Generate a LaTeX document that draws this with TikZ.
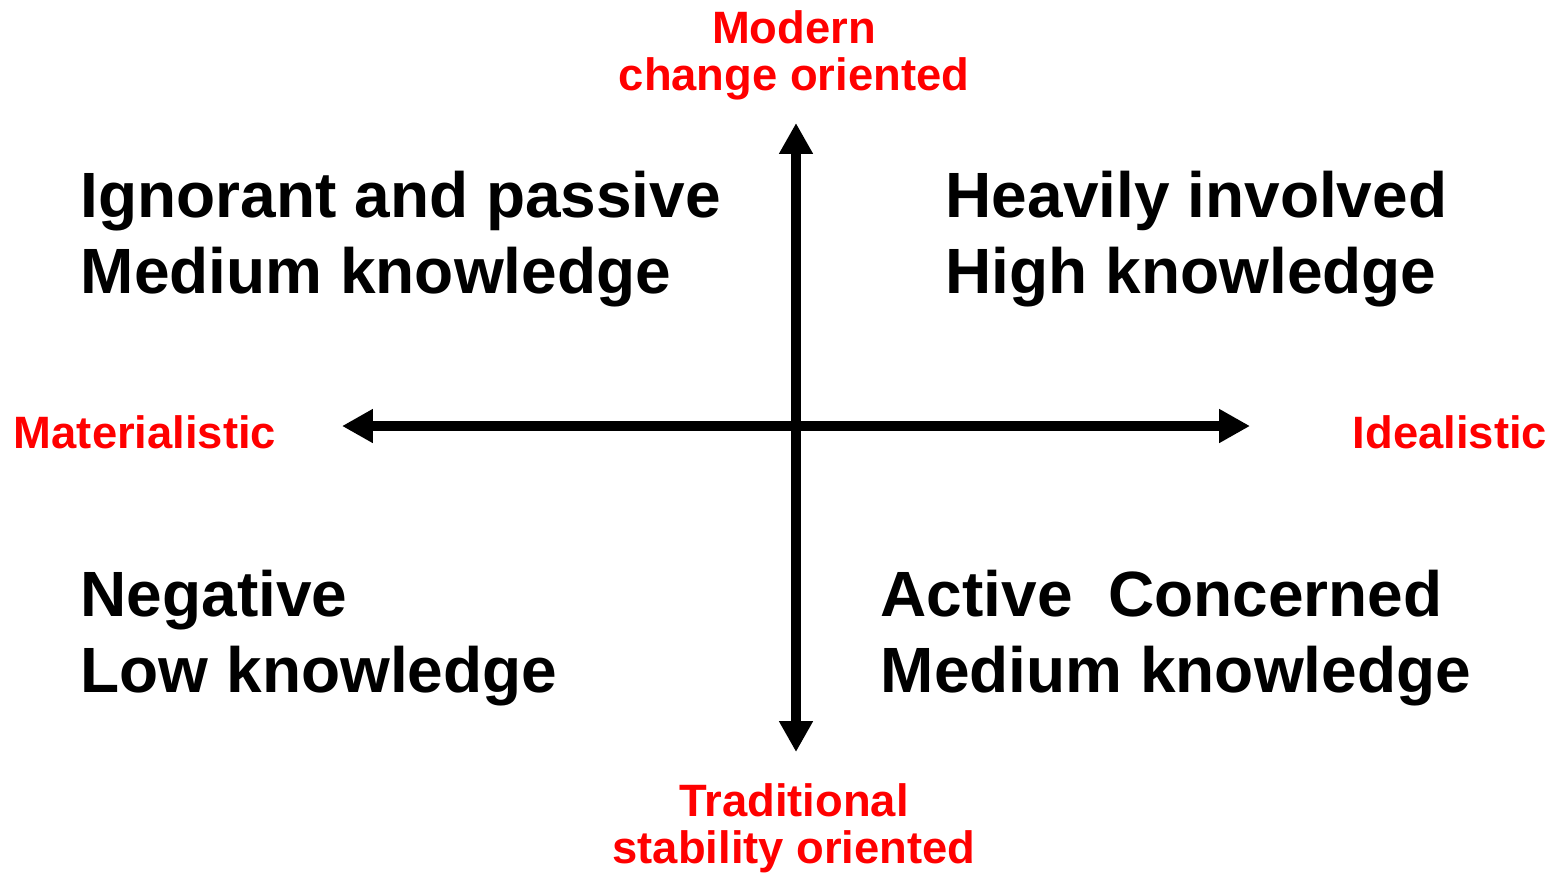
\documentclass[tikz,border=0pt]{standalone}
\usepackage{fontspec}
\setmainfont{Liberation Sans}
\usetikzlibrary{arrows.meta}
\tikzstyle{quadrant}=[anchor=base west,inner sep=0pt,font=\fontsize{18.2}{22}\selectfont\bfseries]
\tikzstyle{pole}=[anchor=base,inner sep=0pt,text=red,font=\fontsize{12.9}{15}\selectfont\bfseries]
\tikzstyle{axis}=[draw,line width=2.6pt,{Triangle[length=8.8pt,width=9.1pt]}-{Triangle[length=8.8pt,width=9.1pt]}]

\begin{document}
\begin{tikzpicture}[x=0.01cm,y=-0.01cm]
    \useasboundingbox (0,0) rectangle (1555,875);
    % ends of the two axes
    \coordinate (up) at (796,123);
    \coordinate (down) at (796,752);
    \coordinate (left) at (342,426);
    \coordinate (right) at (1250,426);
    \path[axis] (left) -- (right);
    \path[axis] (down) -- (up);

    % red labels at the poles
    \foreach \pos/\name/\txt in {{(794,43)/modern/Modern}, {(794,90)/change/change oriented},
        {(794,816)/trad/Traditional}, {(794,863)/stab/stability oriented},
        {(145,448)/mat/Materialistic}, {(1450,448)/ideal/Idealistic}}
        \node[pole] (\name) at \pos {\txt};

    % the four quadrants
    \foreach \pos/\name/\txt in {{(80,217)/ign/Ignorant and passive}, {(80,293)/medtl/Medium knowledge},
        {(945,217)/heavy/Heavily involved}, {(945,293)/high/High knowledge},
        {(80,616)/neg/Negative}, {(80,692)/low/Low knowledge},
        {(880,616)/act/Active\ \ Concerned}, {(880,692)/medbr/Medium knowledge}}
        \node[quadrant] (\name) at \pos {\txt};
\end{tikzpicture}
\end{document}
